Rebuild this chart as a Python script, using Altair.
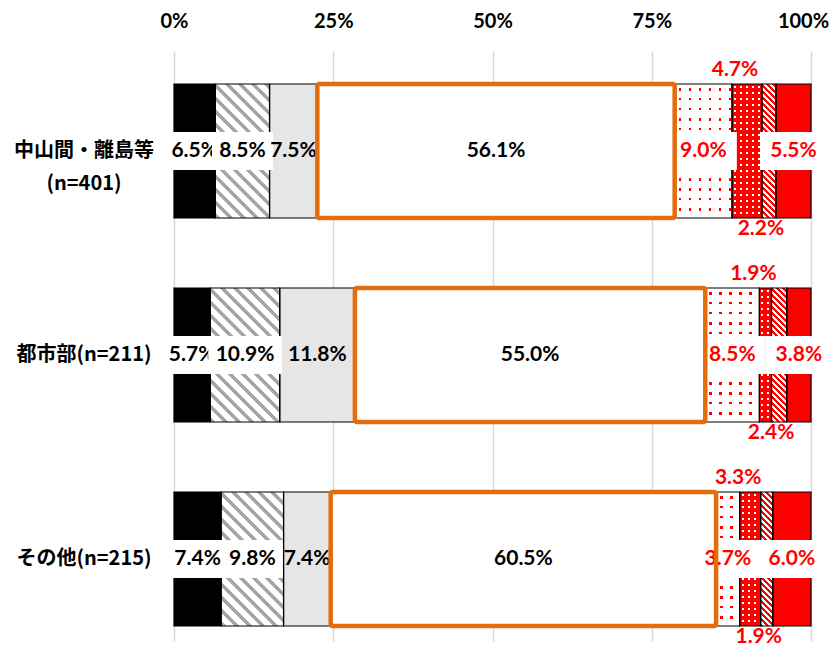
import altair as alt

# ---------------- data ----------------
row_names = ["中山間・離島等\n(n=401)", "都市部(n=211)", "その他(n=215)"]
pct_black = [6.5, 5.7, 7.4]
pct_hatch = [8.5, 10.9, 9.8]
pct_gray = [7.5, 11.8, 7.4]
pct_white = [56.1, 55.0, 60.5]
pct_dots = [9.0, 8.5, 3.7]
pct_dense = [4.7, 1.9, 3.3]
pct_redhatch = [2.2, 2.4, 1.9]
pct_red = [5.5, 3.8, 6.0]
x_ticks = [0, 25, 50, 75, 100]

series = [pct_black, pct_hatch, pct_gray, pct_white, pct_dots, pct_dense, pct_redhatch, pct_red]
seg_keys = ["black", "hatch", "gray", "white", "dots", "dense", "redhatch", "red"]
base_colors = ["#000000", "#ffffff", "#e6e6e6", "#ffffff", "#ff0000", "#ffffff", "#ffffff", "#ff0000"]

# ---------------- layout / style constants ----------------
W, H = 637, 590
UNIT = 204.0          # px between row centres
FIRST = 100.0         # px from plot top to first row centre
BAR_PX = 134.0
HALF = BAR_PX / 2 / UNIT
BOX_HALF = 19.0 / UNIT
PCT_PX = W / 100.0

RED = "#ff0000"
ORANGE = "#e46c0a"
GRAYH = "#a6a6a6"
CLEAR = "rgba(255,255,255,0)"
NUM_FONT = "Lato"
CJK_FONT = "Noto Sans CJK JP"
FS = 21

records = []
for r in range(len(row_names)):
    start = 0.0
    for k, key in enumerate(seg_keys):
        v = series[k][r]
        lab = f"{v:.1f}%"
        pad = 17 if key in ("dots", "red") else 11
        bw = (len(lab) * 12.5 + pad) / PCT_PX
        mid = start + v / 2
        records.append({
            "row": r, "seg": key, "v": v, "label": lab,
            "x0": round(start, 4), "x1": round(start + v, 4), "mid": round(mid, 4),
            "y0": r - HALF, "y1": r + HALF,
            "bx0": mid - bw / 2, "bx1": mid + bw / 2,
            "by0": r - BOX_HALF, "by1": r + BOX_HALF,
        })
        start += v

cat_records = [{"row": i, "name": n} for i, n in enumerate(row_names)]


# ---------------- pattern helpers (linear gradients) ----------------
def stripe_stops(length, period, on, c_on, c_off, phase=0.0):
    pts = []
    pos = 0.0
    a = (phase % period) - period
    while a < length:
        s, e = max(a, 0.0), min(a + on, length)
        if e > s:
            if s > pos:
                pts += [(pos, c_off), (s, c_off)]
            pts += [(s, c_on), (e, c_on)]
            pos = e
        a += period
    if pos < length:
        pts += [(pos, c_off), (length, c_off)]
    return [{"offset": round(p / length, 5), "color": c} for p, c in pts]


def hatch_fill(w, h, period, on, c_on, c_off):
    L = w + h
    k = (w + h) / (w * w + h * h)
    return {"gradient": "linear", "x1": 0, "y1": 1, "x2": k * w, "y2": 1 - k * h,
            "stops": stripe_stops(L, period, on, c_on, c_off)}


def band_fill(length, period, on, c_on, c_off, along_y, phase=0.0):
    return {"gradient": "linear", "x1": 0, "y1": 0, "x2": 0 if along_y else 1, "y2": 1 if along_y else 0,
            "stops": stripe_stops(length, period, on, c_on, c_off, phase)}


# ---------------- scales / encodings ----------------
xs = alt.Scale(domain=[0, 100], nice=False, zero=False)
ys = alt.Scale(domain=[-FIRST / UNIT, (H - FIRST) / UNIT], reverse=True, nice=False, zero=False)
x_axis = alt.Axis(orient="top", values=x_ticks, labelExpr="datum.value + '%'", grid=True,
                  gridColor="#d9d9d9", gridWidth=1.5, domain=False, ticks=False,
                  labelPadding=20, labelFont=NUM_FONT, labelFontSize=20, labelFontWeight="bold",
                  labelColor="#000000", labelFlush=False, labelOverlap=False, title=None,
                  labelOffset={"condition": {"test": "datum.value === 100", "value": -8}, "value": 0})

src = alt.Chart(alt.Data(values=records))


def X(f):
    return alt.X(f, scale=xs, axis=x_axis, title=None)


def Y(f):
    return alt.Y(f, scale=ys, axis=None, title=None)


def seg_rect(flt, **mark):
    return src.transform_filter(flt).mark_rect(**mark).encode(
        x=X("x0:Q"), x2="x1:Q", y=Y("y0:Q"), y2="y1:Q")


def box_layer(seg):
    return src.transform_filter(f"datum.seg == '{seg}'").mark_rect(fill="#ffffff", strokeWidth=0).encode(
        x=X("bx0:Q"), x2="bx1:Q", y=Y("by0:Q"), y2="by1:Q")


def text_layer(seg, color, yfield="row:Q", dy=0, dx=0):
    return src.transform_filter(f"datum.seg == '{seg}'").mark_text(
        font=NUM_FONT, fontWeight="bold", fontSize=FS, color=color, baseline="middle",
        align="center", dy=dy, dx=dx).encode(x=X("mid:Q"), y=Y(yfield), text="label:N")


layers = []
# base fills
layers.append(src.mark_rect(strokeWidth=0).encode(
    x=X("x0:Q"), x2="x1:Q", y=Y("y0:Q"), y2="y1:Q",
    fill=alt.Fill("seg:N", scale=alt.Scale(domain=seg_keys, range=base_colors), legend=None)))

# patterned overlays
for r in range(len(row_names)):
    w2 = pct_hatch[r] * PCT_PX
    layers.append(seg_rect(f"datum.row == {r} && datum.seg == 'hatch'",
                           fill=hatch_fill(w2, BAR_PX, 13, 5, GRAYH, "#ffffff"), strokeWidth=0))
    w7 = pct_redhatch[r] * PCT_PX
    layers.append(seg_rect(f"datum.row == {r} && datum.seg == 'redhatch'",
                           fill=hatch_fill(w7, BAR_PX, 6, 3, RED, "#ffffff"), strokeWidth=0))

# sparse red dots on white: red base, white everywhere but thin rows / columns
layers.append(seg_rect("datum.seg == 'dots'",
                       fill=band_fill(BAR_PX, 10, 2.5, CLEAR, "#ffffff", True, phase=4), strokeWidth=0))
for r in range(len(row_names)):
    w5 = pct_dots[r] * PCT_PX
    layers.append(seg_rect(f"datum.row == {r} && datum.seg == 'dots'",
                           fill=band_fill(w5, 10, 2.5, CLEAR, "#ffffff", False, phase=4), strokeWidth=0))

# dense white dots on red: white base, red everywhere but thin rows / columns
layers.append(seg_rect("datum.seg == 'dense'",
                       fill=band_fill(BAR_PX, 6, 2, "rgba(255,0,0,0)", RED, True, phase=2), strokeWidth=0))
for r in range(len(row_names)):
    w6 = pct_dense[r] * PCT_PX
    layers.append(seg_rect(f"datum.row == {r} && datum.seg == 'dense'",
                           fill=band_fill(w6, 6, 2, "rgba(255,0,0,0)", RED, False, phase=2), strokeWidth=0))

# outlines
layers.append(seg_rect("true", fillOpacity=0, stroke="#000000", strokeWidth=1.2))

# dark labels
layers.append(box_layer("black"))
layers.append(text_layer("black", "#000000"))
layers.append(box_layer("hatch"))
layers.append(text_layer("hatch", "#000000"))
layers.append(text_layer("gray", "#000000"))
layers.append(text_layer("white", "#000000"))

# red labels inside
layers.append(box_layer("dots"))
layers.append(text_layer("dots", RED))
layers.append(box_layer("red"))
layers.append(text_layer("red", RED))

# orange highlight box
layers.append(seg_rect("datum.seg == 'white'", fillOpacity=0, stroke=ORANGE, strokeWidth=4.5, cornerRadius=2))

# red labels outside (above / below)
layers.append(text_layer("dense", RED, yfield="y0:Q", dy=-14, dx=-12))
layers.append(text_layer("redhatch", RED, yfield="y1:Q", dy=11, dx=-8))

# row labels
layers.append(alt.Chart(alt.Data(values=cat_records)).mark_text(
    font=CJK_FONT, fontWeight="bold", fontSize=20, color="#000000", align="center",
    baseline="middle", lineBreak="\n", lineHeight=33).encode(
    x=alt.value(-90), y=Y("row:Q"), text="name:N"))

chart = alt.layer(*layers).properties(
    width=W, height=H,
    autosize=alt.AutoSizeParams(type="none"),
    padding={"left": 166, "top": 43, "right": 19, "bottom": 8},
).configure_view(stroke=None)

chart.save("out.html", embed_options={"renderer": "svg", "actions": False})
